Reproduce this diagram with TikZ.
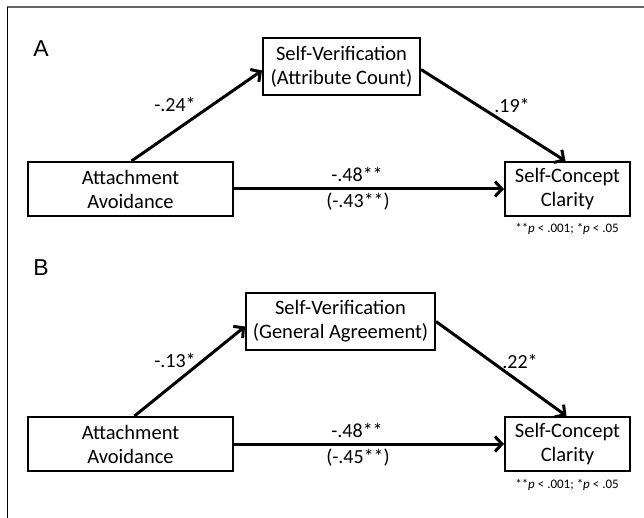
\documentclass[tikz,border=0pt]{standalone}
\usepackage{fontspec}
\setmainfont{Carlito}
\newfontfamily\letterfont{Liberation Sans}
\usetikzlibrary{arrows.meta}
\begin{document}
\begin{tikzpicture}[x=1pt,y=-1pt,
 box/.style={draw=black, line width=2pt, inner sep=0pt, align=center, font=\fontsize{20.5}{24}\selectfont},
 conn/.style={line width=3pt, -{Straight Barb[length=7pt,width=15pt]}},
 lbl/.style={inner sep=0pt, anchor=base, font=\fontsize{20}{23}\selectfont},
 note/.style={inner sep=0pt, anchor=base, font=\fontsize{13}{16}\selectfont},
 panel/.style={inner sep=0pt, anchor=base, font=\letterfont\fontsize{23}{27}\selectfont}]
\useasboundingbox (0,0) rectangle (644,518);
\fill[white] (0,0) rectangle (644,518);
\draw[line width=2pt, black!60] (7,7.5) -- (644,7.5);
\draw[line width=1pt] (7.3,7) -- (7.3,518);

% Panel A
\node[panel] (pA) at (41,57) {A};
\node[box, minimum width=157pt, minimum height=57pt] (svA) at (341.5,66.5) {Self-Verification\\(Attribute Count)};
\node[box, minimum width=205pt, minimum height=54pt] (aaA) at (130.5,189) {Attachment\\Avoidance};
\node[box, minimum width=125pt, minimum height=54pt] (sccA) at (567.5,189) {Self-Concept\\Clarity};
\draw[conn] ([xshift=1pt]aaA.north) -- ([yshift=-4pt]svA.west);
\draw[conn] ([yshift=-3pt]svA.east) -- ([xshift=-2pt]sccA.north);
\draw[conn] (aaA.east) -- (sccA.west);
\node[lbl] (a1) at (175,112) {-.24*};
\node[lbl] (a2) at (512,113) {.19*};
\node[lbl] (a3) at (357,182) {-.48**};
\node[lbl] (a4) at (358,208) {(-.43**)};
\node[note] (nA) at (567,233) {**\textit{p} < .001; *\textit{p} < .05};

% Panel B
\node[panel] (pB) at (41,275) {B};
\node[box, minimum width=189pt, minimum height=57pt] (svB) at (340.5,321.5) {Self-Verification\\(General Agreement)};
\node[box, minimum width=205pt, minimum height=54pt] (aaB) at (130.5,444) {Attachment\\Avoidance};
\node[box, minimum width=125pt, minimum height=54pt] (sccB) at (567.5,444) {Self-Concept\\Clarity};
\draw[conn] ([xshift=4pt]aaB.north) -- ([yshift=-5pt]svB.west);
\draw[conn] ([yshift=0pt]svB.east) -- ([xshift=-1pt]sccB.north);
\draw[conn] (aaB.east) -- (sccB.west);
\node[lbl] (b1) at (175,367) {-.13*};
\node[lbl] (b2) at (520,368) {.22*};
\node[lbl] (b3) at (357,437) {-.48**};
\node[lbl] (b4) at (358,463) {(-.45**)};
\node[note] (nB) at (567,488) {**\textit{p} < .001; *\textit{p} < .05};
\end{tikzpicture}
\end{document}
